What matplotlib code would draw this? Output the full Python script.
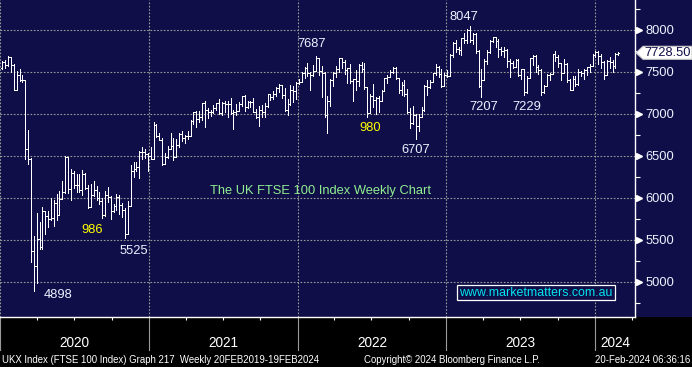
import numpy as np
import pandas as pd
import matplotlib
matplotlib.use("Agg")
import matplotlib.pyplot as plt
import matplotlib.dates as mdates
import matplotlib.transforms as mtransforms
from matplotlib.patches import Rectangle, Polygon

# FTSE 100 weekly bars, weeks ending Friday, Jan 2020 - Feb 2024 (last week partial)
week_end = pd.date_range("2020-01-03", periods=217, freq="7D")

opens = [
    # 2020
    7542, 7623, 7588, 7675, 7586, 7286, 7466, 7409, 7404, 6581, 6463, 5366, 5191, 5510,
    5416, 5843, 5787, 5752, 5763, 5936, 5800, 5993, 6077, 6484, 6105, 6292, 6159, 6157,
    6095, 6290, 6123, 5898, 6032, 6090, 6001, 5964, 5799, 6032, 6007, 5843, 5902, 6017,
    5920, 5860, 5577, 5910, 6316, 6351, 6368, 6550, 6547, 6529, 6502,
    # 2021
    6461, 6873, 6736, 6695, 6407, 6489, 6589, 6624, 6483, 6631, 6761, 6709, 6741, 6737,
    6916, 7020, 6938, 6970, 7130, 7044, 7018, 7023, 7069, 7134, 7017, 7136, 7123, 7122,
    7009, 7028, 7032, 7123, 7219, 7088, 7148, 7138, 7029, 6963, 7051, 7027, 7095, 7234,
    7205, 7237, 7304, 7348, 7223, 7044, 7122, 7291, 7270, 7372,
    # 2022
    7385, 7485, 7543, 7494, 7466, 7516, 7661, 7513, 7489, 6987, 7156, 7405, 7483, 7538,
    7670, 7616, 7522, 7545, 7388, 7418, 7390, 7585, 7533, 7318, 7016, 7209, 7169, 7196,
    7159, 7276, 7423, 7440, 7501, 7551, 7427, 7281, 7351, 7237, 7019, 6894, 6991, 6858,
    6969, 7048, 7335, 7318, 7385, 7487, 7556, 7476, 7332, 7469,
    # 2023
    7452, 7699, 7844, 7771, 7765, 7902, 7882, 8004, 7879, 7947, 7748, 7335, 7405, 7632,
    7742, 7872, 7914, 7871, 7778, 7755, 7756, 7627, 7607, 7562, 7643, 7462, 7532, 7257,
    7434, 7663, 7694, 7564, 7525, 7262, 7338, 7465, 7478, 7711, 7684, 7608, 7494, 7599,
    7402, 7291, 7417, 7360, 7504, 7488, 7529, 7554, 7576, 7697,
    # 2024
    7733, 7690, 7625, 7461, 7635, 7616, 7573, 7712,
]

highs = [
    7627, 7637, 7689, 7681, 7599, 7517, 7534, 7460, 7405, 6815, 6479, 5542, 5819, 5713,
    5890, 5845, 5842, 6003, 5972, 6050, 6083, 6198, 6505, 6489, 6346, 6325, 6286, 6286,
    6330, 6303, 6159, 6161, 6200, 6145, 6066, 6001, 6085, 6136, 6020, 5930, 6044, 6030,
    5935, 5878, 5969, 6387, 6432, 6432, 6555, 6612, 6580, 6530, 6612,
    6903, 6880, 6778, 6719, 6530, 6617, 6776, 6718, 6703, 6772, 6803, 6746, 6794, 6929,
    7028, 7040, 7030, 7134, 7150, 7070, 7050, 7111, 7135, 7180, 7145, 7160, 7160, 7190,
    7050, 7125, 7143, 7220, 7225, 7160, 7160, 7190, 7065, 7090, 7108, 7130, 7235, 7243,
    7278, 7326, 7362, 7350, 7310, 7174, 7346, 7330, 7380, 7420,
    7505, 7565, 7611, 7500, 7580, 7687, 7661, 7570, 7500, 7220, 7420, 7500, 7570, 7672,
    7670, 7640, 7550, 7600, 7420, 7520, 7600, 7620, 7610, 7320, 7240, 7360, 7200, 7220,
    7290, 7430, 7470, 7520, 7563, 7560, 7430, 7380, 7400, 7300, 7070, 7100, 7000, 7000,
    7080, 7340, 7400, 7400, 7490, 7600, 7570, 7530, 7490, 7520,
    7710, 7852, 7876, 7800, 7906, 7970, 8014, 8047, 7960, 7970, 7760, 7530, 7650, 7760,
    7880, 7920, 7910, 7890, 7800, 7800, 7770, 7650, 7630, 7660, 7650, 7540, 7540, 7450,
    7670, 7700, 7700, 7580, 7530, 7340, 7480, 7490, 7720, 7750, 7700, 7610, 7650, 7610,
    7420, 7450, 7450, 7530, 7510, 7540, 7560, 7600, 7720, 7750,
    7750, 7720, 7630, 7640, 7680, 7640, 7730, 7740,
]

lows = [
    7532, 7550, 7566, 7501, 7284, 7286, 7394, 7380, 6461, 6400, 5237, 4898, 4994, 5390,
    5389, 5566, 5649, 5734, 5665, 5740, 5819, 5996, 6061, 6060, 5979, 6119, 6076, 6070,
    6040, 6106, 5880, 5890, 6020, 5980, 5930, 5761, 5790, 5952, 5752, 5838, 5858, 5806,
    5771, 5525, 5577, 5910, 6250, 6317, 6240, 6468, 6477, 6326, 6460,
    6461, 6724, 6686, 6397, 6407, 6481, 6587, 6451, 6483, 6610, 6680, 6650, 6705, 6737,
    6880, 6841, 6910, 6930, 6844, 6950, 6980, 7016, 7050, 7002, 6990, 7029, 6970, 7000,
    6822, 6990, 7030, 7090, 7040, 7070, 7080, 7020, 6952, 6860, 6960, 6960, 7080, 7168,
    7175, 7214, 7260, 7190, 7030, 6990, 7108, 7140, 7180, 7360,
    7384, 7430, 7450, 7290, 7450, 7519, 7460, 7207, 6960, 6769, 7100, 7330, 7440, 7500,
    7550, 7480, 7370, 7370, 7155, 7280, 7330, 7500, 7300, 6960, 7010, 7080, 7000, 7020,
    7150, 7270, 7370, 7440, 7490, 7420, 7248, 7230, 7220, 7010, 6830, 6880, 6707, 6800,
    6960, 7040, 7230, 7310, 7380, 7460, 7440, 7320, 7340, 7440,
    7451, 7680, 7740, 7720, 7700, 7840, 7850, 7860, 7830, 7730, 7320, 7207, 7440, 7600,
    7730, 7860, 7800, 7680, 7700, 7680, 7560, 7440, 7550, 7560, 7450, 7420, 7229, 7250,
    7430, 7580, 7500, 7480, 7230, 7250, 7330, 7400, 7480, 7630, 7560, 7400, 7490, 7380,
    7280, 7280, 7330, 7350, 7450, 7420, 7470, 7500, 7570, 7680,
    7600, 7550, 7420, 7460, 7550, 7500, 7550, 7700,
]

closes = [
    7623, 7588, 7675, 7586, 7286, 7466, 7409, 7404, 6581, 6463, 5366, 5191, 5510, 5416,
    5843, 5787, 5752, 5763, 5936, 5800, 5993, 6077, 6484, 6105, 6292, 6159, 6157, 6095,
    6290, 6123, 5898, 6032, 6090, 6001, 5964, 5799, 6032, 6007, 5843, 5902, 6017, 5920,
    5860, 5577, 5910, 6316, 6351, 6368, 6550, 6547, 6529, 6502, 6461,
    6873, 6736, 6695, 6407, 6489, 6589, 6624, 6483, 6631, 6761, 6709, 6741, 6737, 6916,
    7020, 6938, 6970, 7130, 7044, 7018, 7023, 7069, 7134, 7017, 7136, 7123, 7122, 7009,
    7028, 7032, 7123, 7219, 7088, 7148, 7138, 7029, 6963, 7051, 7027, 7095, 7234, 7205,
    7237, 7304, 7348, 7223, 7044, 7122, 7291, 7270, 7372, 7385,
    7485, 7543, 7494, 7466, 7516, 7661, 7513, 7489, 6987, 7156, 7405, 7483, 7538, 7670,
    7616, 7522, 7545, 7388, 7418, 7390, 7585, 7533, 7318, 7016, 7209, 7169, 7196, 7159,
    7276, 7423, 7440, 7501, 7551, 7427, 7281, 7351, 7237, 7019, 6894, 6991, 6858, 6969,
    7048, 7335, 7318, 7385, 7487, 7556, 7476, 7332, 7469, 7452,
    7699, 7844, 7771, 7765, 7902, 7882, 8004, 7879, 7947, 7748, 7335, 7405, 7632, 7742,
    7872, 7914, 7871, 7778, 7755, 7756, 7627, 7607, 7562, 7643, 7462, 7532, 7257, 7434,
    7663, 7694, 7564, 7525, 7262, 7338, 7465, 7478, 7711, 7684, 7608, 7494, 7599, 7402,
    7291, 7417, 7360, 7504, 7488, 7529, 7554, 7576, 7697, 7733,
    7690, 7625, 7461, 7635, 7616, 7573, 7712, 7728.5,
]

price_ticks = [5000, 5500, 6000, 6500, 7000, 7500, 8000]
minor_ticks = [4750, 5250, 5750, 6250, 6750, 7250, 7750, 8250]
years = [2020, 2021, 2022, 2023, 2024]
last_price = 7728.50

# (label, x px, y px, colour)
notes = [
    ("4898", 58, 295, "#eef2ff"),
    ("986", 92, 230, "#ffff00"),
    ("5525", 134, 251, "#eef2ff"),
    ("7687", 312, 44, "#eef2ff"),
    ("980", 370, 128, "#ffff00"),
    ("6707", 416, 150, "#eef2ff"),
    ("8047", 464, 17, "#eef2ff"),
    ("7207", 484, 107, "#eef2ff"),
    ("7229", 527, 107, "#eef2ff"),
]

W, H = 692, 367
AX_W, AX_H = 635, 317
navy = "#0f0e48"
fg = "#eef2ff"

plt.rcParams["font.family"] = ["Liberation Sans", "DejaVu Sans"]

fig = plt.figure(figsize=(W / 100, H / 100), dpi=100, facecolor="black")
fig.patches.append(Rectangle((0, 1 - AX_H / H), 1, AX_H / H, transform=fig.transFigure,
                             facecolor=navy, edgecolor="none", zorder=-10))
ax = fig.add_axes([0, 1 - AX_H / H, AX_W / W, AX_H / H])
ax.set_facecolor(navy)

# x scale: 148.75 px per year, 2020-01-01 at the left edge
x0 = mdates.date2num(pd.Timestamp("2020-01-01"))
days_per_px = 365.25 / 148.75
ax.set_xlim(x0, x0 + AX_W * days_per_px)
ax.set_ylim(8000 - (AX_H - 30) / 42 * 500, 8000 + 30 / 42 * 500)

# OHLC bars
x = mdates.date2num(week_end + pd.Timedelta(days=4))
o = np.array(opens, float)
h = np.array(highs, float)
l = np.array(lows, float)
c = np.array(closes, float)
top = np.maximum(h, np.maximum(o, c))
bot = np.minimum(l, np.minimum(o, c))
half = 2.6
ax.vlines(x, bot, top, color="white", lw=0.72, antialiased=False, zorder=3)
ax.hlines(o, x - half, x, color="white", lw=0.72, antialiased=False, zorder=3)
ax.hlines(c, x, x + half, color="white", lw=0.72, antialiased=False, zorder=3)

# grid
year_starts = [mdates.date2num(pd.Timestamp(f"{y}-01-01")) for y in years]
quarters = [mdates.date2num(d) for d in pd.date_range("2020-01-01", "2024-04-01", freq="QS")]
ax.set_xticks(year_starts)
ax.set_xticks(quarters, minor=True)
ax.set_xticklabels([])
ax.set_yticks(price_ticks)
ax.set_yticks(minor_ticks, minor=True)
ax.grid(True, which="major", color="#9a9a9a", linestyle=(0, (1.5, 1.5)), lw=0.8, zorder=1)

for s in ["top", "left"]:
    ax.spines[s].set_visible(False)
for s in ["right", "bottom"]:
    ax.spines[s].set_color("white")
    ax.spines[s].set_linewidth(1.0)

ax.yaxis.tick_right()
ax.tick_params(axis="y", which="major", length=0, pad=7.5, labelcolor=fg, labelsize=9.3)
ax.tick_params(axis="y", which="minor", length=3.5, width=0.8, color="white", direction="out")
ax.tick_params(axis="x", which="major", length=0)
ax.tick_params(axis="x", which="minor", length=2.5, width=0.8, color="white", direction="out")

# tick flags on the price axis
flag_tr = mtransforms.blended_transform_factory(ax.transAxes, ax.transData)
ax.plot([1 + 4 / AX_W] * len(price_ticks), price_ticks, linestyle="none", marker=">",
        ms=4.5, color="white", mec="white", transform=flag_tr, clip_on=False, zorder=5)

# last price tag
tag_tr = mtransforms.blended_transform_factory(fig.transFigure, ax.transData)
dy = 6.5 / 42 * 500
tag = Polygon([(636 / W, last_price), (643 / W, last_price + dy), (1.0, last_price + dy),
               (1.0, last_price - dy), (643 / W, last_price - dy)], closed=True,
              facecolor="white", edgecolor="#c8c8c8", lw=0.8, transform=tag_tr, clip_on=False, zorder=6)
fig.patches.append(tag)
fig.text(644 / W, last_price, f"{last_price:.2f}", color=navy, fontsize=9.3, va="center",
         transform=tag_tr, zorder=7)

# year labels and separators
xy_tr = mtransforms.blended_transform_factory(ax.transData, ax.transAxes)
xmax = ax.get_xlim()[1]
for i, ys in enumerate(year_starts):
    ax.plot([ys, ys], [0, -33 / AX_H], color="#9a9a9a", lw=0.8, transform=xy_tr, clip_on=False)
    end = year_starts[i + 1] if i + 1 < len(year_starts) else xmax
    ax.text((ys + min(end, xmax)) / 2, -26 / AX_H, str(years[i]), transform=xy_tr,
            ha="center", va="center", color="white", fontsize=9.8)

# annotations
for label, px, py, col in notes:
    ax.text(px / AX_W, 1 - py / AX_H, label, transform=ax.transAxes, ha="center", va="center",
            color=col, fontsize=9.3, zorder=4)

ax.text(320.5 / AX_W, 1 - 191 / AX_H, "The UK FTSE 100 Index Weekly Chart", transform=ax.transAxes,
        ha="center", va="center", color="#90ee90", fontsize=9.3, zorder=4)
ax.text(536 / AX_W, 1 - 292.5 / AX_H, "www.marketmatters.com.au", transform=ax.transAxes,
        ha="center", va="center", color="#00e5ee", fontsize=8.9, zorder=4,
        bbox=dict(boxstyle="square,pad=0.15", facecolor=navy, edgecolor="white", lw=0.9))

# footer
fig.text(2 / W, 7 / H, "UKX Index (FTSE 100 Index) Graph 217  Weekly 20FEB2019-19FEB2024",
         color="white", fontsize=6.9, va="center")
fig.text(364 / W, 7 / H, "Copyright\u00a9 2024 Bloomberg Finance L.P.",
         color="white", fontsize=6.9, va="center")
fig.text(690 / W, 7 / H, "20-Feb-2024 06:36:16", color="white", fontsize=6.9,
         va="center", ha="right")

fig.savefig("out.png", dpi=100, facecolor="black")
